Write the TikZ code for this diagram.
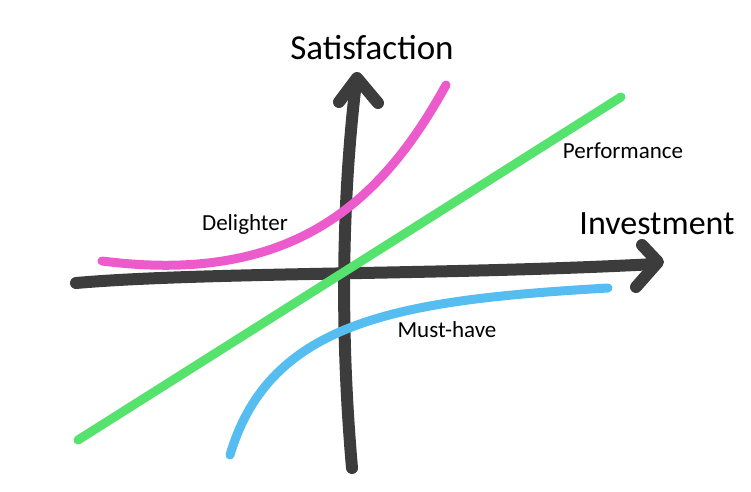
\documentclass[tikz,border=0pt]{standalone}
\usepackage{fontspec}
\setmainfont{Carlito}
\usepackage{tikz}
\usetikzlibrary{calc}

\definecolor{axisgray}{HTML}{3C3C3C}
\definecolor{perfgreen}{HTML}{55E36E}
\definecolor{delpink}{HTML}{EC5BCB}
\definecolor{mustblue}{HTML}{55BDF0}

\begin{document}
\begin{tikzpicture}[
    x=1pt, y=-1pt,
    marker/.style={line cap=round, line join=round},
    axis line/.style={marker, draw=axisgray, line width=12pt},
    curve line/.style={marker, line width=9pt}
]
    \useasboundingbox (0,0) rectangle (751,491);

    % axes
    \coordinate (ybot) at (352, 468);
    \coordinate (ytop) at (356, 82);
    \coordinate (xleft) at (76, 283);
    \coordinate (xright) at (655, 264);

    \draw[axis line] (ybot) .. controls (340, 330) and (342, 200) .. (ytop);
    \draw[axis line] (339, 102) -- (357, 78) -- (378, 103);
    \draw[axis line] (xleft) .. controls (200, 272) and (450, 275) .. (xright);
    \draw[axis line] (642, 245) -- (658, 262) -- (636, 287);

    % the three curves
    \coordinate (pstart) at (78, 440);
    \coordinate (pend) at (621, 97);
    \draw[curve line, perfgreen] (pstart) -- (pend);

    \coordinate (dstart) at (102, 261);
    \coordinate (dend) at (446, 85);
    \draw[curve line, delpink] (dstart) .. controls (290, 285) and (380, 205) .. (dend);

    \coordinate (mstart) at (230, 455);
    \coordinate (mend) at (608, 288);
    \draw[curve line, mustblue] (mstart) .. controls (270, 320) and (400, 300) .. (mend);

    % labels
    \node (satlabel) at (372, 48) {\fontsize{35}{40}\selectfont Satisfaction};
    \node (invlabel) at (657, 224) {\fontsize{34}{40}\selectfont Investment};
    \node (perflabel) at (623, 151) {\fontsize{23}{28}\selectfont Performance};
    \node (dellabel) at (245, 224) {\fontsize{23}{28}\selectfont Delighter};
    \node (mustlabel) at (447, 330) {\fontsize{23}{28}\selectfont Must-have};

\end{tikzpicture}
\end{document}
